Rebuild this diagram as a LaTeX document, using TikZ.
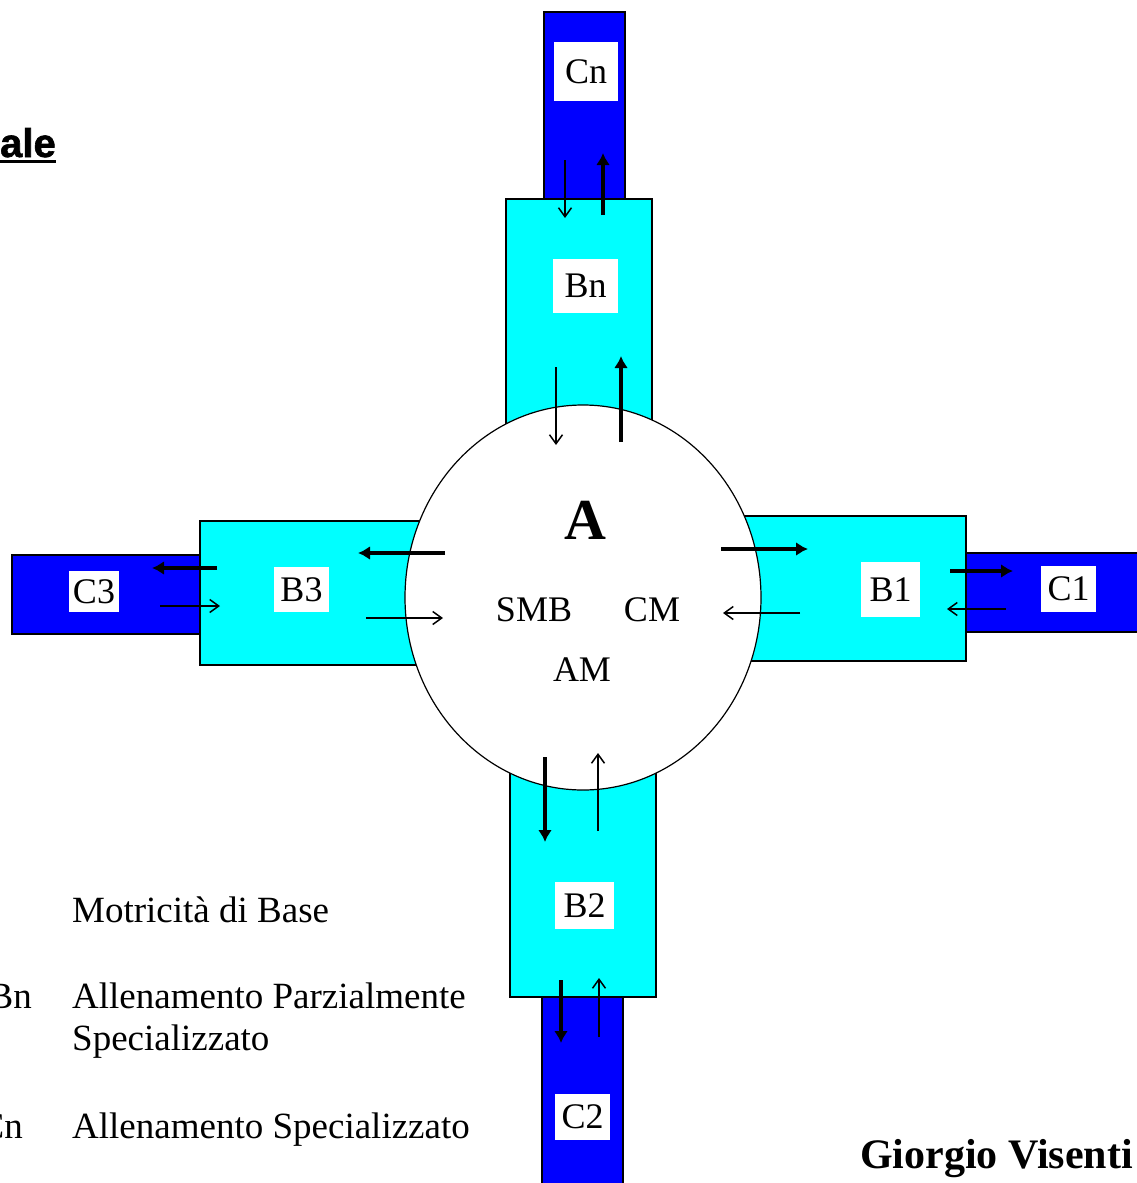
\documentclass[tikz,border=0pt]{standalone}
\usepackage{fontspec}
\setmainfont{Liberation Serif}
\newfontfamily\sansblack[FakeBold=1.5]{Liberation Sans}
\usetikzlibrary{arrows.meta,shapes.geometric}
\definecolor{cyanbox}{RGB}{0,255,255}
\definecolor{bluebox}{RGB}{0,0,255}
\begin{document}
\begin{tikzpicture}[x=1pt,y=-1pt,
  cbar/.style={draw=black,line width=1.6pt,fill=bluebox},
  bbar/.style={draw=black,line width=1.6pt,fill=cyanbox},
  lbl/.style={fill=white,inner sep=0pt,font=\fontsize{36}{40}\selectfont},
  intext/.style={inner sep=0pt,font=\fontsize{36}{40}\selectfont},
  legend/.style={inner sep=0pt,anchor=base west,font=\fontsize{37}{42}\selectfont},
  arrthin/.style={line width=1.5pt,-{Straight Barb[length=9pt,width=13pt]}},
  arrthick/.style={line width=4pt,-{Latex[length=12pt,width=14pt]}},
  ]
\useasboundingbox (0,0) rectangle (1137,1183);
\clip (0,0) rectangle (1137,1183);
% C bars
\draw[cbar] (544,12) rectangle (625,205);
\draw[cbar] (12,555) rectangle (205,634);
\draw[cbar] (960,553) rectangle (1150,632);
\draw[cbar] (542,990) rectangle (623,1200);
% B bars
\draw[bbar] (506,199) rectangle (652,440);
\draw[bbar] (200,521) rectangle (430,665);
\draw[bbar] (730,516) rectangle (966,661);
\draw[bbar] (510,760) rectangle (656,997);
% central circle
\node[draw=black,line width=1.2pt,fill=white,ellipse,minimum width=356pt,minimum height=385pt,inner sep=0pt] (circ) at (583,597.5) {};
% labels
\node[lbl,minimum width=64pt,minimum height=59pt] (cn) at (586,71.5) {Cn};
\node[lbl,minimum width=65pt,minimum height=54pt] (bn) at (585.5,286) {Bn};
\node[lbl,minimum width=55pt,minimum height=45pt] (b3) at (301.5,589.5) {B3};
\node[lbl,minimum width=50pt,minimum height=41pt] (c3) at (94,591.5) {C3};
\node[lbl,minimum width=59pt,minimum height=55pt] (b1) at (890.5,589.5) {B1};
\node[lbl,minimum width=55pt,minimum height=46pt] (c1) at (1068.5,589) {C1};
\node[lbl,minimum width=59pt,minimum height=47pt] (b2) at (584.5,905.5) {B2};
\node[lbl,minimum width=55pt,minimum height=46pt] (c2) at (582.5,1117) {C2};
% circle texts
\node[inner sep=0pt,font=\fontsize{58}{60}\selectfont\bfseries] (lA) at (585,520) {A};
\node[intext] (smb) at (534,610) {SMB};
\node[intext] (cm) at (652,610) {CM};
\node[intext] (am) at (582,670) {AM};
% arrows top
\coordinate (a1s) at (565,160); \coordinate (a1e) at (565,218);
\coordinate (a2s) at (603,215); \coordinate (a2e) at (603,153);
\coordinate (a3s) at (556,367); \coordinate (a3e) at (556,445);
\coordinate (a4s) at (621,442); \coordinate (a4e) at (621,356);
\draw[arrthin] (a1s) -- (a1e);
\draw[arrthick] (a2s) -- (a2e);
\draw[arrthin] (a3s) -- (a3e);
\draw[arrthick] (a4s) -- (a4e);
% arrows left
\coordinate (l1s) at (445,553); \coordinate (l1e) at (358,553);
\coordinate (l2s) at (366,618); \coordinate (l2e) at (443,618);
\coordinate (l3s) at (217,568); \coordinate (l3e) at (152,568);
\coordinate (l4s) at (160,606); \coordinate (l4e) at (220,606);
\draw[arrthick] (l1s) -- (l1e);
\draw[arrthin] (l2s) -- (l2e);
\draw[arrthick] (l3s) -- (l3e);
\draw[arrthin] (l4s) -- (l4e);
% arrows right
\coordinate (r1s) at (721,549); \coordinate (r1e) at (808,549);
\coordinate (r2s) at (800,613); \coordinate (r2e) at (723,613);
\coordinate (r3s) at (950,571); \coordinate (r3e) at (1013,571);
\coordinate (r4s) at (1006,609); \coordinate (r4e) at (947,609);
\draw[arrthick] (r1s) -- (r1e);
\draw[arrthin] (r2s) -- (r2e);
\draw[arrthick] (r3s) -- (r3e);
\draw[arrthin] (r4s) -- (r4e);
% arrows bottom
\coordinate (d1s) at (545,757); \coordinate (d1e) at (545,842);
\coordinate (d2s) at (598,831); \coordinate (d2e) at (598,753);
\coordinate (d3s) at (561,980); \coordinate (d3e) at (561,1043);
\coordinate (d4s) at (599,1037); \coordinate (d4e) at (599,978);
\draw[arrthick] (d1s) -- (d1e);
\draw[arrthin] (d2s) -- (d2e);
\draw[arrthick] (d3s) -- (d3e);
\draw[arrthin] (d4s) -- (d4e);
% title fragment
\node[inner sep=0pt,anchor=base east,font=\sansblack\fontsize{40}{44}\selectfont\bfseries] (ttl) at (56,157) {ale};
\draw[line width=3pt] (0,161) -- (56,161);
% legend
\node[legend] (m1) at (72,922) {Motricità di Base};
\node[inner sep=0pt,anchor=base east,font=\fontsize{37}{42}\selectfont] (kb) at (32,1008) {Bn};
\node[legend] (m2) at (72,1008) {Allenamento Parzialmente};
\node[legend] (m3) at (72,1050) {Specializzato};
\node[inner sep=0pt,anchor=base east,font=\fontsize{37}{42}\selectfont] (kc) at (23,1138) {Cn};
\node[legend] (m4) at (72,1138) {Allenamento Specializzato};
% author
\node[inner sep=0pt,anchor=base west,font=\fontsize{42}{46}\selectfont\bfseries] (auth) at (860,1168) {Giorgio Visenti};
\end{tikzpicture}
\end{document}
